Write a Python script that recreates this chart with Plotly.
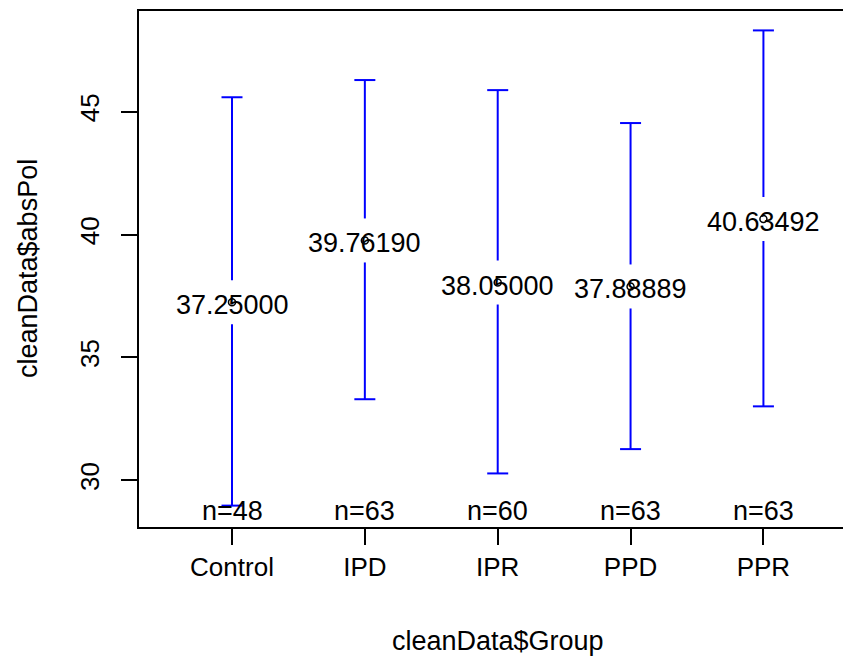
import plotly.graph_objects as go

groups = ["Control", "IPD", "IPR", "PPD", "PPR"]
means = [37.25, 39.761905, 38.05, 37.888889, 40.634921]
upper = [45.59, 46.29, 45.88, 44.54, 48.31]
lower = [28.97, 33.30, 30.28, 31.27, 33.01]
counts = [48, 63, 60, 63, 63]
y_ticks = [30, 35, 40, 45]

# layout / style
W, H = 843, 658
ML, MR, MT, MB = 139, 0, 11, 131
XR = [0.3, 5.599]
YR = [28.10, 49.10]
FONT = "Liberation Sans, Arial, sans-serif"
FS = 26
FS_TXT = 27
BLUE = "#0000FF"
GAP_PX = 22
CAP_PX = 10.5

plot_h = H - MT - MB
plot_w = W - ML - MR
y_per_px = (YR[1] - YR[0]) / plot_h
x_per_px = (XR[1] - XR[0]) / plot_w
gap = GAP_PX * y_per_px
cap = CAP_PX * x_per_px

xs = list(range(1, len(groups) + 1))

lx, ly = [], []
for x, m, u, l in zip(xs, means, upper, lower):
    lx += [x, x, None]
    ly += [m + gap, u, None]
    lx += [x, x, None]
    ly += [l, m - gap, None]
    lx += [x - cap, x + cap, None, x - cap, x + cap, None]
    ly += [u, u, None, l, l, None]

fig = go.Figure()
fig.add_trace(go.Scatter(x=lx, y=ly, mode="lines",
                         line=dict(color=BLUE, width=2),
                         hoverinfo="skip", showlegend=False))
fig.add_trace(go.Scatter(x=xs, y=means, mode="markers",
                         marker=dict(symbol="circle-open", size=7,
                                     color="black", line=dict(width=1.5)),
                         showlegend=False))

for x, m in zip(xs, means):
    fig.add_annotation(x=x, xref="x", y=m, yref="y", text=f"{m:.5f}",
                       showarrow=False, yanchor="middle", yshift=-3,
                       font=dict(family=FONT, size=FS_TXT, color="black"))

for x, n in zip(xs, counts):
    fig.add_annotation(x=x, xref="x", y=0, yref="paper", text=f"n={n}",
                       showarrow=False, yanchor="middle", yshift=16,
                       font=dict(family=FONT, size=FS_TXT, color="black"))

fig.add_annotation(x=(XR[0] + 5.7) / 2, xref="x", y=0, yref="paper",
                   text="cleanData$Group", showarrow=False,
                   yanchor="middle", yshift=-114,
                   font=dict(family=FONT, size=FS_TXT, color="black"))
fig.add_annotation(x=0, xref="paper", y=0.5, yref="paper",
                   text="cleanData$absPol", showarrow=False, textangle=-90,
                   xanchor="center", xshift=-111,
                   font=dict(family=FONT, size=FS_TXT, color="black"))

fig.update_layout(
    width=W, height=H,
    margin=dict(l=ML, r=MR, t=MT, b=MB),
    paper_bgcolor="white", plot_bgcolor="white",
    font=dict(family=FONT, size=FS, color="black"),
    xaxis=dict(range=XR, tickmode="array", tickvals=xs, ticktext=groups,
               ticks="outside", ticklen=16, tickwidth=1.5, tickcolor="black",
               showline=True, linecolor="black", linewidth=1.5, mirror=True,
               showgrid=False, zeroline=False,
               tickfont=dict(family=FONT, size=FS, color="black")),
    yaxis=dict(range=YR, tickmode="array", tickvals=y_ticks,
               ticktext=[str(v) for v in y_ticks], tickangle=-90,
               ticks="outside", ticklen=16, tickwidth=1.5, tickcolor="black",
               showline=True, linecolor="black", linewidth=1.5, mirror=False,
               showgrid=False, zeroline=False, ticklabelstandoff=12,
               tickfont=dict(family=FONT, size=FS, color="black")),
)

fig.write_html("out.html")
